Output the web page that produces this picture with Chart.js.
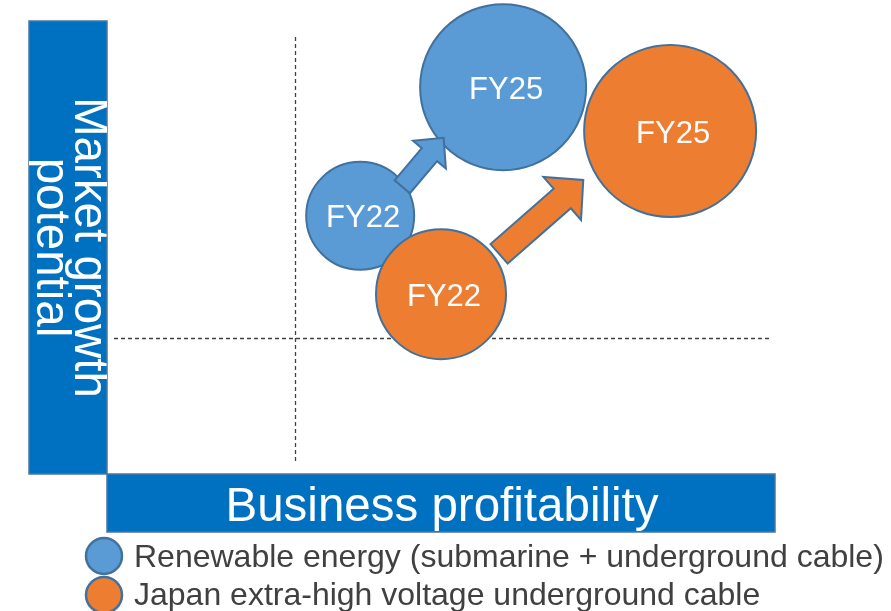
<!DOCTYPE html>
<html>
<head>
<meta charset="utf-8">
<script src="https://cdn.jsdelivr.net/npm/chart.js@4.4.1/dist/chart.umd.min.js"></script>
<style>
  html, body { margin: 0; padding: 0; background: #ffffff; }
  #wrap { width: 891px; height: 611px; }
</style>
</head>
<body>
<div id="wrap"><canvas id="matrix" width="891" height="611"></canvas></div>
<script>
// periods shown inside each bubble
const periods = ['FY22', 'FY25'];

// Renewable energy (submarine + underground cable)
const renewableX = [37.9, 59.3];
const renewableY = [57.0, 85.4];
const renewableR = [54, 83];

// Japan extra-high voltage underground cable
const japanX = [50.0, 84.3];
const japanY = [39.7, 75.7];
const japanR = [65, 86];

// quadrant dividers (data units)
const xDivider = 28.1;
const yDivider = 30;

// growth arrows FY22 -> FY25 (data units)
const arrowFromX = [44.2, 58.7];
const arrowFromY = [63.4, 48.6];
const arrowToX = [50.4, 71.3];
const arrowToY = [74.2, 64.9];

const seriesNames = [
    'Renewable energy (submarine + underground cable)',
    'Japan extra-high voltage underground cable'
];
const xTitle = 'Business profitability';
const yTitle = ['Market growth', 'potential'];

const BLUE = '#5b9bd5';
const ORANGE = '#ed7d31';
const OUTLINE = '#41719c';
const BOX = '#0070c0';
const FONT = '"Liberation Sans", Arial, sans-serif';

const toPoints = (xs, ys, rs) => xs.map((x, i) => ({ x: x, y: ys[i], r: rs[i] }));

function drawArrow(ctx, x0, y0, x1, y1, shaftW, headW, headL, fill) {
    const dx = x1 - x0, dy = y1 - y0;
    const len = Math.hypot(dx, dy);
    const ux = dx / len, uy = dy / len;
    const nx = -uy, ny = ux;
    const neckX = x1 - ux * headL, neckY = y1 - uy * headL;
    ctx.beginPath();
    ctx.moveTo(x0 + nx * shaftW / 2, y0 + ny * shaftW / 2);
    ctx.lineTo(neckX + nx * shaftW / 2, neckY + ny * shaftW / 2);
    ctx.lineTo(neckX + nx * headW / 2, neckY + ny * headW / 2);
    ctx.lineTo(x1, y1);
    ctx.lineTo(neckX - nx * headW / 2, neckY - ny * headW / 2);
    ctx.lineTo(neckX - nx * shaftW / 2, neckY - ny * shaftW / 2);
    ctx.lineTo(x0 - nx * shaftW / 2, y0 - ny * shaftW / 2);
    ctx.closePath();
    ctx.fillStyle = fill;
    ctx.fill();
    ctx.lineWidth = 2;
    ctx.strokeStyle = OUTLINE;
    ctx.stroke();
}

// dashed quadrant lines + axis boxes, behind the bubbles
const framePlugin = {
    id: 'frame',
    beforeDatasetsDraw(chart) {
        const { ctx, chartArea, scales } = chart;
        const xs = scales.x, ys = scales.y;
        ctx.save();

        // y title box
        ctx.fillStyle = BOX;
        ctx.fillRect(29, chartArea.top, chartArea.left - 29, chartArea.bottom - chartArea.top);
        ctx.strokeStyle = '#4a76a0';
        ctx.lineWidth = 1.5;
        ctx.strokeRect(29, chartArea.top, chartArea.left - 29, chartArea.bottom - chartArea.top);

        ctx.save();
        ctx.beginPath();
        ctx.rect(29, chartArea.top, chartArea.left - 29, chartArea.bottom - chartArea.top);
        ctx.clip();
        ctx.translate(0, (chartArea.top + chartArea.bottom) / 2);
        ctx.rotate(Math.PI / 2);
        ctx.fillStyle = '#ffffff';
        ctx.font = '47.5px ' + FONT;
        ctx.textAlign = 'center';
        ctx.textBaseline = 'alphabetic';
        ctx.fillText(yTitle[0], 0, -75);
        ctx.fillText(yTitle[1], 0, -37);
        ctx.restore();

        // x title box
        ctx.fillStyle = BOX;
        ctx.fillRect(chartArea.left, chartArea.bottom, chartArea.right - chartArea.left, 58);
        ctx.strokeStyle = '#4a76a0';
        ctx.lineWidth = 1.5;
        ctx.strokeRect(chartArea.left, chartArea.bottom, chartArea.right - chartArea.left, 58);
        ctx.fillStyle = '#ffffff';
        ctx.font = '47.5px ' + FONT;
        ctx.textAlign = 'center';
        ctx.textBaseline = 'alphabetic';
        ctx.fillText(xTitle, (chartArea.left + chartArea.right) / 2 + 1, chartArea.bottom + 47);

        // dashed dividers
        ctx.strokeStyle = '#404040';
        ctx.lineWidth = 1.3;
        ctx.setLineDash([4, 3]);
        const vx = Math.round(xs.getPixelForValue(xDivider)) + 0.5;
        ctx.beginPath();
        ctx.moveTo(vx, chartArea.top + 16);
        ctx.lineTo(vx, chartArea.bottom - 10);
        ctx.stroke();
        const hy = Math.round(ys.getPixelForValue(yDivider)) + 0.5;
        ctx.beginPath();
        ctx.moveTo(chartArea.left + 7, hy);
        ctx.lineTo(chartArea.right - 3, hy);
        ctx.stroke();
        ctx.setLineDash([]);

        // legend
        const legendColors = [BLUE, ORANGE];
        const rowY = [556, 595];
        const baseY = [567, 605];
        seriesNames.forEach((name, i) => {
            ctx.beginPath();
            ctx.arc(104, rowY[i], 18, 0, Math.PI * 2);
            ctx.fillStyle = legendColors[i];
            ctx.fill();
            ctx.lineWidth = 2.5;
            ctx.strokeStyle = OUTLINE;
            ctx.stroke();
            ctx.fillStyle = '#404040';
            ctx.font = '32px ' + FONT;
            ctx.textAlign = 'left';
            ctx.fillText(name, 134, baseY[i]);
        });
        ctx.restore();
    },
    afterDatasetsDraw(chart) {
        const { ctx, scales } = chart;
        const xs = scales.x, ys = scales.y;
        ctx.save();
        // arrows
        const arrowColors = [BLUE, ORANGE];
        const shaft = [20, 26];
        const head = [43, 57];
        const headLen = [22, 28];
        arrowFromX.forEach((fx, i) => {
            drawArrow(ctx,
                xs.getPixelForValue(fx), ys.getPixelForValue(arrowFromY[i]),
                xs.getPixelForValue(arrowToX[i]), ys.getPixelForValue(arrowToY[i]),
                shaft[i], head[i], headLen[i], arrowColors[i]);
        });
        // period labels at bubble centres
        ctx.fillStyle = '#ffffff';
        ctx.font = '31px ' + FONT;
        ctx.textAlign = 'center';
        ctx.textBaseline = 'middle';
        chart.data.datasets.forEach((ds, di) => {
            const meta = chart.getDatasetMeta(di);
            meta.data.forEach((pt, i) => {
                ctx.fillText(periods[i], pt.x + 3, pt.y + 3);
            });
        });
        ctx.restore();
    }
};

new Chart(document.getElementById('matrix'), {
    type: 'bubble',
    data: {
        datasets: [
            {
                label: seriesNames[0],
                data: toPoints(renewableX, renewableY, renewableR),
                backgroundColor: BLUE,
                borderColor: OUTLINE,
                borderWidth: 2,
                clip: false,
                order: 2
            },
            {
                label: seriesNames[1],
                data: toPoints(japanX, japanY, japanR),
                backgroundColor: ORANGE,
                borderColor: OUTLINE,
                borderWidth: 2,
                clip: false,
                order: 1
            }
        ]
    },
    options: {
        responsive: false,
        animation: false,
        layout: { autoPadding: false, padding: { left: 107, right: 116, top: 21, bottom: 137 } },
        plugins: {
            legend: { display: false },
            tooltip: { enabled: false }
        },
        scales: {
            x: { type: 'linear', min: 0, max: 100, display: false },
            y: { type: 'linear', min: 0, max: 100, display: false }
        }
    },
    plugins: [framePlugin]
});
</script>
</body>
</html>
